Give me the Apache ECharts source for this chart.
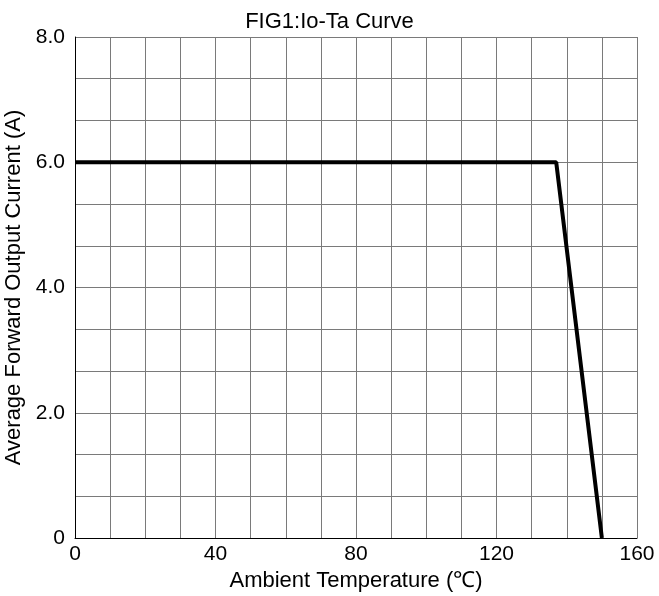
<!DOCTYPE html>
<html>
<head>
<meta charset="utf-8">
<script src="https://cdn.jsdelivr.net/npm/echarts@6/dist/echarts.min.js"></script>
<style>html,body{margin:0;padding:0;background:#fff;}#c{width:659px;height:596px;}</style>
</head>
<body>
<div id="c"></div>
<script>
var titleText = 'FIG1:Io-Ta Curve';
var xName = 'Ambient Temperature (℃)';
var yName = 'Average Forward Output Current (A)';
var tempValues = [0, 137, 150];
var currentValues = [6.0, 6.0, 0];
var xTickLabels = [0, 40, 80, 120, 160];
var yTickLabels = [0, 2, 4, 6, 8];

var font = '"Liberation Sans", Arial, sans-serif';
var chart = echarts.init(document.getElementById('c'));
chart.setOption({
  animation: false,
  backgroundColor: '#fff',
  title: {
    text: titleText, left: 'center', top: 6,
    textStyle: { fontFamily: font, fontSize: 22, fontWeight: 'normal', color: '#000' }
  },
  grid: { left: 75, right: 22, top: 37, bottom: 58, containLabel: false, outerBoundsMode: 'none' },
  xAxis: {
    type: 'value', min: 0, max: 160, interval: 10,
    name: xName, nameLocation: 'middle', nameGap: 32,
    nameTextStyle: { fontFamily: font, fontSize: 22, color: '#000' },
    axisLine: { show: true, onZero: false, lineStyle: { color: '#000', width: 1 } },
    axisTick: { show: false },
    axisLabel: {
      margin: 6, fontFamily: font, fontSize: 21, color: '#000',
      formatter: function (v) {
        for (var i = 0; i < xTickLabels.length; i++) if (Math.abs(v - xTickLabels[i]) < 1e-6) return String(xTickLabels[i]);
        return '';
      }
    },
    splitLine: { show: true, lineStyle: { color: '#7a7a7a', width: 1 } }
  },
  yAxis: {
    type: 'value', min: 0, max: 8, interval: 2 / 3,
    name: yName, nameLocation: 'middle', nameGap: 44,
    nameTextStyle: { fontFamily: font, fontSize: 22, color: '#000' },
    axisLine: { show: true, onZero: false, lineStyle: { color: '#000', width: 1 } },
    axisTick: { show: false },
    axisLabel: {
      margin: 10, fontFamily: font, fontSize: 21, color: '#000',
      formatter: function (v) {
        for (var i = 0; i < yTickLabels.length; i++) {
          if (Math.abs(v - yTickLabels[i]) < 1e-6) return yTickLabels[i] === 0 ? '0' : yTickLabels[i].toFixed(1);
        }
        return '';
      }
    },
    splitLine: { show: true, lineStyle: { color: '#7a7a7a', width: 1 } }
  },
  series: [{
    type: 'line',
    data: tempValues.map(function (t, i) { return [t, currentValues[i]]; }),
    symbol: 'none',
    lineStyle: { color: '#000', width: 4 },
    clip: false
  }]
});
</script>
</body>
</html>
